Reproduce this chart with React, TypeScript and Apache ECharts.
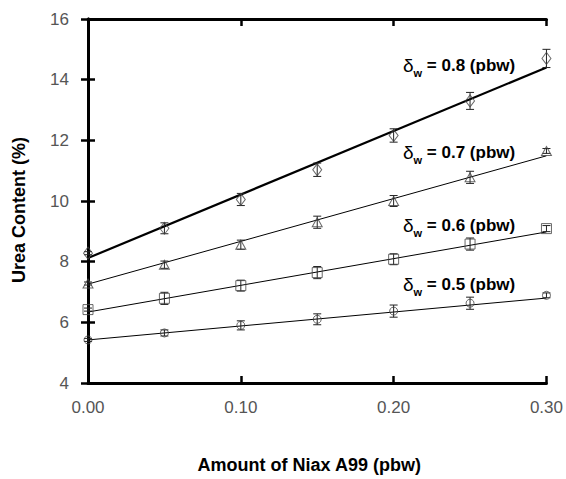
import React, { useEffect, useRef } from "react";
import * as echarts from "echarts";

const xValues = [0, 0.05, 0.1, 0.15, 0.2, 0.25, 0.3];
const s08 = [8.28, 9.1, 10.05, 11.03, 12.16, 13.3, 14.7];
const err08 = [0.05, 0.18, 0.2, 0.22, 0.22, 0.28, 0.3];
const s07 = [7.28, 7.9, 8.56, 9.3, 10.0, 10.78, 11.65];
const err07 = [0.05, 0.12, 0.15, 0.2, 0.18, 0.2, 0.08];
const s06 = [6.42, 6.79, 7.21, 7.64, 8.08, 8.58, 9.09];
const err06 = [0.05, 0.2, 0.18, 0.2, 0.18, 0.2, 0.1];
const s05 = [5.42, 5.65, 5.9, 6.1, 6.37, 6.63, 6.89];
const err05 = [0.05, 0.1, 0.15, 0.18, 0.2, 0.2, 0.08];
const fitX = [0, 0.3];
const fit08 = [8.12, 14.4];
const fit07 = [7.26, 11.49];
const fit06 = [6.34, 8.98];
const fit05 = [5.42, 6.8];
const seriesLabels = ["0.8", "0.7", "0.6", "0.5"];

const FONT = "Arial, 'Liberation Sans', sans-serif";

export default function App() {
  const ref = useRef<HTMLDivElement>(null);
  useEffect(() => {
    if (!ref.current) return;
    const chart = echarts.init(ref.current, undefined, { renderer: "svg" });
    const groups = [
      { vals: s08, errs: err08, fit: fit08, symbol: "diamond", size: [9, 12], lw: 2.2 },
      { vals: s07, errs: err07, fit: fit07, symbol: "triangle", size: [10, 9], lw: 1 },
      { vals: s06, errs: err06, fit: fit06, symbol: "rect", size: [10, 10], lw: 1 },
      { vals: s05, errs: err05, fit: fit05, symbol: "circle", size: [8, 8], lw: 1 },
    ];
    const series: any[] = [];
    groups.forEach((g) => {
      series.push({
        type: "line",
        data: fitX.map((x, i) => [x, g.fit[i]]),
        symbol: "none",
        lineStyle: { color: "#000", width: g.lw },
        z: 3,
      });
      series.push({
        type: "custom",
        data: xValues.map((x, i) => [x, g.vals[i] - g.errs[i], g.vals[i] + g.errs[i]]),
        renderItem: (params: any, api: any) => {
          const lo = api.coord([api.value(0), api.value(1)]);
          const hi = api.coord([api.value(0), api.value(2)]);
          const w = 4;
          const st = { stroke: "#222", lineWidth: 1 };
          return {
            type: "group",
            children: [
              { type: "line", shape: { x1: lo[0], y1: lo[1], x2: hi[0], y2: hi[1] }, style: st },
              { type: "line", shape: { x1: lo[0] - w, y1: lo[1], x2: lo[0] + w, y2: lo[1] }, style: st },
              { type: "line", shape: { x1: hi[0] - w, y1: hi[1], x2: hi[0] + w, y2: hi[1] }, style: st },
            ],
          };
        },
        z: 4,
      });
      series.push({
        type: "scatter",
        data: xValues.map((x, i) => [x, g.vals[i]]),
        symbol: g.symbol,
        symbolSize: g.size,
        itemStyle: { color: "rgba(255,255,255,0)", borderColor: "#444", borderWidth: 1 },
        z: 5,
      });
    });

    const labelY = [68, 155, 228, 287];
    const graphic = seriesLabels.map((v, i) => ({
      type: "text",
      left: 403,
      top: labelY[i] - 12,
      style: {
        text: `{d|δ}{s|w}{t| = ${v} (pbw)}`,
        rich: {
          d: { fontFamily: FONT, fontSize: 19, fill: "#000" },
          s: { fontFamily: FONT, fontSize: 11, fontWeight: "bold", fill: "#000", padding: [14, 0, 0, 0] },
          t: { fontFamily: FONT, fontSize: 17, fontWeight: "bold", fill: "#000" },
        },
      },
    }));

    const tickStyle = { show: true, inside: true, length: 7, lineStyle: { color: "#000", width: 2.5 } };
    chart.setOption({
      animation: false,
      backgroundColor: "#fff",
      grid: { left: 88, right: 16, top: 19, bottom: 82, containLabel: false },
      xAxis: [
        {
          type: "value",
          min: 0,
          max: 0.3,
          interval: 0.1,
          position: "bottom",
          name: "Amount of Niax A99 (pbw)",
          nameLocation: "middle",
          nameGap: 73,
          nameTextStyle: { fontFamily: FONT, fontSize: 18, fontWeight: "bold", color: "#000", padding: [0, 16, 0, 0] },
          axisLine: { show: true, lineStyle: { color: "#000", width: 3 } },
          axisTick: tickStyle,
          axisLabel: { formatter: (v: number) => v.toFixed(2), fontFamily: FONT, fontSize: 17, color: "#555", margin: 16 },
          splitLine: { show: false },
        },
        {
          type: "value",
          min: 0,
          max: 0.3,
          interval: 0.1,
          position: "top",
          axisLine: { show: true, lineStyle: { color: "#000", width: 3 } },
          axisTick: tickStyle,
          axisLabel: { show: false },
          splitLine: { show: false },
        },
      ],
      yAxis: [
        {
          type: "value",
          min: 4,
          max: 16,
          interval: 2,
          position: "left",
          name: "Urea Content (%)",
          nameLocation: "middle",
          nameGap: 60,
          nameTextStyle: { fontFamily: FONT, fontSize: 18, fontWeight: "bold", color: "#000", padding: [0, 18, 0, 0] },
          axisLine: { show: true, lineStyle: { color: "#000", width: 3 } },
          axisTick: tickStyle,
          axisLabel: { fontFamily: FONT, fontSize: 17, color: "#555", margin: 19 },
          splitLine: { show: false },
        },
        {
          type: "value",
          min: 4,
          max: 16,
          interval: 2,
          position: "right",
          axisLine: { show: true, lineStyle: { color: "#000", width: 3 } },
          axisTick: tickStyle,
          axisLabel: { show: false },
          splitLine: { show: false },
        },
      ],
      series,
      graphic,
    });
    return () => chart.dispose();
  }, []);
  return (
    <div
      ref={ref}
      style={{ position: "fixed", left: 0, top: 0, width: 566, height: 479, overflow: "hidden" }}
    />
  );
}
